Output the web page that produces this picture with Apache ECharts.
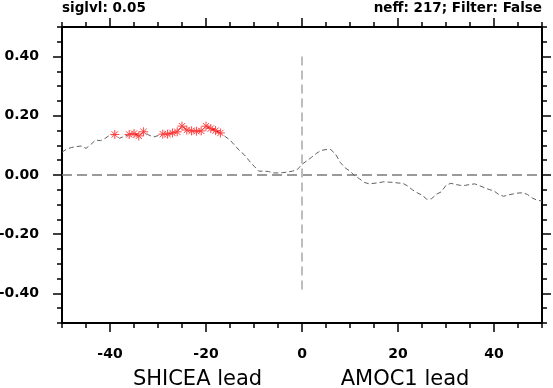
<!DOCTYPE html>
<html>
<head>
<meta charset="utf-8">
<script src="https://cdn.jsdelivr.net/npm/echarts@6/dist/echarts.min.js"></script>
<style>html,body{margin:0;padding:0;background:#fff}#c{width:553px;height:388px}</style>
</head>
<body>
<div id="c"></div>
<script>
// ---- data ----
const lags = [-50,-49,-48,-47,-46,-45,-44,-43,-42,-41,-40,-39,-38,-37,-36,-35,-34,-33,-32,-31,
  -30,-29,-28,-27,-26,-25,-24,-23,-22,-21,-20,-19,-18,-17,-16,-15,-14,-13,-12,-11,
  -10,-9,-8,-7,-6,-5,-4,-3,-2,-1,0,1,2,3,4,5,6,7,8,9,
  10,11,12,13,14,15,16,17,18,19,20,21,22,23,24,25,26,27,28,29,
  30,31,32,33,34,35,36,37,38,39,40,41,42,43,44,45,46,47,48,49,50];
const corr = [0.077,0.088,0.093,0.096,0.098,0.090,0.103,0.118,0.116,0.124,
  0.135,0.137,0.124,0.131,0.137,0.140,0.132,0.146,0.136,0.128,
  0.133,0.138,0.138,0.142,0.146,0.165,0.152,0.149,0.148,0.149,
  0.165,0.157,0.150,0.142,0.130,0.118,0.100,0.082,0.068,0.048,
  0.030,0.013,0.013,0.012,0.007,0.007,0.008,0.010,0.013,0.018,
  0.036,0.048,0.060,0.073,0.083,0.086,0.086,0.070,0.042,0.024,
  0.013,-0.003,-0.013,-0.025,-0.030,-0.028,-0.026,-0.023,-0.024,-0.025,
  -0.027,-0.028,-0.037,-0.050,-0.060,-0.068,-0.082,-0.080,-0.065,-0.057,
  -0.035,-0.028,-0.032,-0.035,-0.035,-0.032,-0.030,-0.036,-0.043,-0.049,
  -0.054,-0.066,-0.072,-0.067,-0.064,-0.061,-0.060,-0.066,-0.078,-0.085,-0.088];
const sigLags = [-39,-36,-35,-34,-33,-29,-28,-27,-26,-25,-24,-23,-22,-21,-20,-19,-18,-17];
const zeroLineX = [-50, 50];
const zeroLineY = [0, 0];
const vertLineX = [0, 0];
const vertLineY = [0.4, -0.4];
const xMajorTicks = [-40,-20,0,20,40];
const xMinorTicks = [-50,-45,-35,-30,-25,-15,-10,-5,5,10,15,25,30,35,45,50];
const yMajorTicks = [-0.4,-0.2,0,0.2,0.4];
const yMinorTicks = [-0.5,-0.45,-0.35,-0.3,-0.25,-0.15,-0.1,-0.05,0.05,0.1,0.15,0.25,0.3,0.35,0.45,0.5];
const leftTitle = 'siglvl: 0.05';
const rightTitle = 'neff: 217; Filter: False';
const xTitleLeft = 'SHICEA lead';
const xTitleRight = 'AMOC1 lead';

// ---- chart ----
const mainData = lags.map((l, i) => [l, corr[i]]);
const sigData = lags.map((l, i) => [l, sigLags.indexOf(l) >= 0 ? corr[i] : null]);
const FONT = '"DejaVu Sans", sans-serif';
const labelStyle = {fontFamily: FONT, fontWeight: 'bold', fontSize: 14, color: '#000'};

function xAx(pos, major) {
  return {
    type: 'value', min: -50, max: 50, position: pos, gridIndex: 0,
    axisLine: {show: major, onZero: false, lineStyle: {color: '#000', width: 2}},
    axisTick: {show: true, inside: false, customValues: major ? xMajorTicks : xMinorTicks,
      length: major ? 9 : 5, lineStyle: {color: '#000', width: 1.5}},
    axisLabel: (major && pos === 'bottom') ? Object.assign({show: true, customValues: xMajorTicks, margin: 24,
      formatter: v => String(v)}, labelStyle) : {show: false},
    splitLine: {show: false}
  };
}
function yAx(pos, major) {
  return {
    type: 'value', min: -0.5, max: 0.5, position: pos, gridIndex: 0,
    axisLine: {show: major, onZero: false, lineStyle: {color: '#000', width: 2}},
    axisTick: {show: true, inside: false, customValues: major ? yMajorTicks : yMinorTicks,
      length: major ? 9 : 5, lineStyle: {color: '#000', width: 1.5}},
    axisLabel: (major && pos === 'left') ? Object.assign({show: true, customValues: yMajorTicks, margin: 23,
      formatter: v => v.toFixed(2)}, labelStyle) : {show: false},
    splitLine: {show: false}
  };
}

const asterisk = 'path://M0,-5L0,5M-5,0L5,0M-3.5,-3.5L3.5,3.5M-3.5,3.5L3.5,-3.5';

const option = {
  animation: false,
  backgroundColor: '#fff',
  grid: {left: 62, right: 11, top: 27, bottom: 65, containLabel: false, outerBoundsMode: 'none'},
  xAxis: [xAx('bottom', true), xAx('bottom', false), xAx('top', true), xAx('top', false)],
  yAxis: [yAx('left', true), yAx('left', false), yAx('right', true), yAx('right', false)],
  series: [
    {type: 'line', data: zeroLineX.map((x, i) => [x, zeroLineY[i]]), symbol: 'none', silent: true,
      lineStyle: {color: '#7a7a7a', width: 1.3, type: [10, 5]}},
    {type: 'line', data: vertLineX.map((x, i) => [x, vertLineY[i]]), symbol: 'none', silent: true,
      lineStyle: {color: '#bdbdbd', width: 2, type: [9, 5]}},
    {type: 'line', data: mainData, symbol: 'none', silent: true,
      lineStyle: {color: '#606060', width: 1, type: [5, 3]}},
    {type: 'line', data: sigData, connectNulls: false, symbol: asterisk, symbolSize: 9, showSymbol: true,
      silent: true,
      lineStyle: {color: '#e00000', width: 1},
      itemStyle: {color: 'rgba(0,0,0,0)', borderColor: '#ff4040', borderWidth: 1}}
  ],
  graphic: [
    {type: 'text', x: 62, y: 8.8, style: {text: leftTitle, font: 'bold 13.5px ' + FONT, fill: '#000',
      textAlign: 'left', textVerticalAlign: 'middle', align: 'left', verticalAlign: 'middle'}},
    {type: 'text', x: 542, y: 8.8, style: {text: rightTitle, font: 'bold 13.5px ' + FONT, fill: '#000',
      textAlign: 'right', textVerticalAlign: 'middle', align: 'right', verticalAlign: 'middle'}},
    {type: 'text', x: 197.5, y: 379.5, style: {text: xTitleLeft, font: '21px ' + FONT, fill: '#000',
      textAlign: 'center', textVerticalAlign: 'middle', align: 'center', verticalAlign: 'middle'}},
    {type: 'text', x: 405, y: 379.5, style: {text: xTitleRight, font: '21px ' + FONT, fill: '#000',
      textAlign: 'center', textVerticalAlign: 'middle', align: 'center', verticalAlign: 'middle'}}
  ]
};
echarts.init(document.getElementById('c'), null, {renderer: 'canvas'}).setOption(option);
</script>
</body>
</html>
